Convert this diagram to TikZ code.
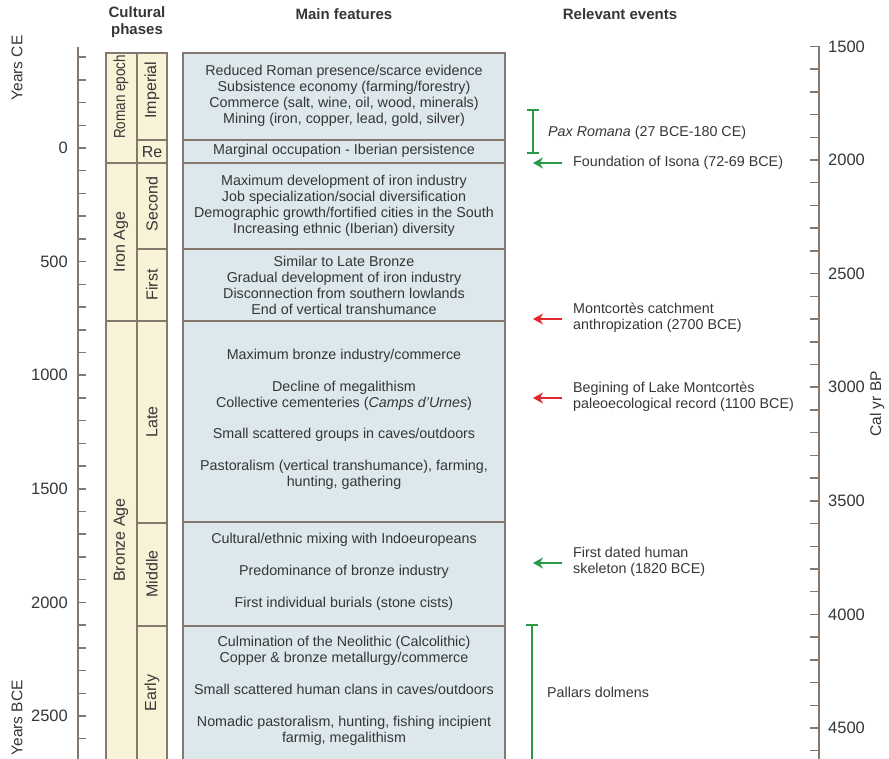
\documentclass[tikz,border=0pt]{standalone}
\usepackage{graphicx}
\usepackage{fontspec}
\setmainfont{Liberation Sans}
\usetikzlibrary{arrows.meta}

\definecolor{phasefill}{HTML}{F8F3D6}
\definecolor{featfill}{HTML}{DDE8EC}
\definecolor{framegray}{HTML}{85796F}
\definecolor{inkgray}{HTML}{363636}
\definecolor{evgreen}{HTML}{2A9A48}
\definecolor{evred}{HTML}{E3262B}

\tikzstyle{phasebox} = [draw=framegray, fill=phasefill, line width=1.5pt]
\tikzstyle{featbox} = [draw=framegray, fill=featfill, line width=1.5pt]
\tikzstyle{axisline} = [draw=framegray, line width=1.5pt]
\tikzstyle{header} = [font=\fontsize{15}{17}\selectfont\bfseries, text=inkgray, align=center]
\tikzstyle{phase} = [font=\fontsize{16}{18}\selectfont, text=inkgray, rotate=90]
\tikzstyle{feature} = [font=\fontsize{14.3}{16}\selectfont, text=inkgray, align=center]
\tikzstyle{event} = [font=\fontsize{14.3}{16}\selectfont, text=inkgray, align=left, anchor=west, inner sep=0pt]
\tikzstyle{ticklabel} = [font=\fontsize{16.5}{18}\selectfont, text=inkgray, inner sep=0pt]
\tikzstyle{axistitle} = [font=\fontsize{15.5}{17}\selectfont, text=inkgray, inner sep=0pt, rotate=90]
\tikzstyle{garrow} = [draw=evgreen, line width=2pt, -{Stealth[length=10pt,width=11pt]}]
\tikzstyle{rarrow} = [draw=evred, line width=2pt, -{Stealth[length=10pt,width=11pt]}]
\tikzstyle{evspan} = [draw=evgreen, line width=2pt]

\begin{document}
\begin{tikzpicture}[x=1pt, y=-1pt]

\useasboundingbox (0,0) rectangle (889,759);
\clip (0,0) rectangle (889,759);

% headers
\node (hphase) [header] at (137,22) {Cultural\\phases};
\node (hfeat) [header] at (344,14) {Main features};
\node (hevent) [header] at (620,14) {Relevant events};

% left axis (years)
\draw [axisline] (78,47) -- (78,770);
\foreach \yr in {-400,-300,...,2700}
  \draw [axisline] (78,148+0.2272*\yr) -- (86,148+0.2272*\yr);
\foreach \yr in {0,500,...,2500}
  \node (ly\yr) [ticklabel, anchor=east] at (68,148+0.2272*\yr) {\yr};
\node (yce) [axistitle] at (17,68) {Years CE};
\node (ybce) [axistitle, anchor=east] at (17,680) {Years BCE};

% right axis (cal yr BP)
\draw [axisline] (819,46) -- (819,770);
\foreach \bp in {1500,1600,...,4600}
  \draw [axisline] (810,160+0.2272*\bp-454.4) -- (819,160+0.2272*\bp-454.4);
\foreach \bp in {1500,2000,...,4500}
  \node (rb\bp) [ticklabel, anchor=west] at (828,160+0.2272*\bp-454.4) {\bp};
\node (calbp) [axistitle] at (877,404) {Cal yr BP};

% cultural phases column
\draw [phasebox] (106,53) rectangle (167,770);
\draw [axisline] (137,53) -- (137,770);
\draw [axisline] (106,163) -- (167,163);
\draw [axisline] (106,321) -- (167,321);
\draw [axisline] (137,140) -- (167,140);
\draw [axisline] (137,249) -- (167,249);
\draw [axisline] (137,523) -- (167,523);
\draw [axisline] (137,626) -- (167,626);

\node (roman) [phase] at (121,97) {\scalebox{0.84}[1]{Roman epoch}};
\node (iron) [phase] at (121,242) {Iron Age};
\node (bronze) [phase] at (121,540) {Bronze Age};
\node (imperial) [phase] at (152,90) {Imperial};
\node (re) [font=\fontsize{16}{18}\selectfont, text=inkgray] at (152,152) {Re};
\node (second) [phase] at (152,204) {Second};
\node (first) [phase] at (152,285) {First};
\node (late) [phase] at (152,422) {Late};
\node (middle) [phase] at (152,574) {Middle};
\node (early) [phase] at (152,693) {Early};

% main features column
\draw [featbox] (183,53) rectangle (505,770);
\foreach \yy in {140,163,249,321,522,626}
  \draw [axisline] (183,\yy) -- (505,\yy);

\node (fimperial) [feature] at (344,96) {Reduced Roman presence/scarce evidence\\Subsistence economy (farming/forestry)\\Commerce (salt, wine, oil, wood, minerals)\\Mining (iron, copper, lead, gold, silver)};
\node (fre) [feature] at (344,151) {Marginal occupation - Iberian persistence};
\node (fsecond) [feature] at (344,206) {Maximum development of iron industry\\Job specialization/social diversification\\Demographic growth/fortified cities in the South\\Increasing ethnic (Iberian) diversity};
\node (ffirst) [feature] at (344,285) {Similar to Late Bronze\\Gradual development of iron industry\\Disconnection from southern lowlands\\End of vertical transhumance};
\node (flate) [feature] at (344,419) {Maximum bronze industry/commerce\\[16pt]Decline of megalithism\\Collective cementeries (\textit{Camps d'Urnes})\\[15pt]Small scattered groups in caves/outdoors\\[16pt]Pastoralism (vertical transhumance), farming,\\hunting, gathering};
\node (fmiddle) [feature] at (344,572) {Cultural/ethnic mixing with Indoeuropeans\\[16pt]Predominance of bronze industry\\[16pt]First individual burials (stone cists)};
\node (fearly) [feature] at (344,691) {Culmination of the Neolithic (Calcolithic)\\Copper \& bronze metallurgy/commerce\\[16pt]Small scattered human clans in caves/outdoors\\[16pt]Nomadic pastoralism, hunting, fishing incipient\\farmig, megalithism};

% relevant events
\coordinate (paxtop) at (533,109);
\coordinate (paxbot) at (533,154);
\draw [evspan, {Bar[width=12pt]}-{Bar[width=12pt]}] (paxtop) -- (paxbot);
\node (pax) [event] at (548,133) {\textit{Pax Romana} (27 BCE-180 CE)};

\node (isona) [event] at (573,163) {Foundation of Isona (72-69 BCE)};
\coordinate (isonatip) at (533,163);
\draw [garrow] ([xshift=-11pt]isona.west) -- (isonatip);

\node (anthro) [event] at (573,318) {Montcortès catchment\\anthropization (2700 BCE)};
\coordinate (anthrotip) at (533,319);
\draw [rarrow] ([xshift=-11pt]anthro.west |- anthrotip) -- (anthrotip);

\node (lake) [event] at (573,397) {Begining of Lake Montcortès\\paleoecological record (1100 BCE)};
\coordinate (laketip) at (533,398);
\draw [rarrow] ([xshift=-11pt]lake.west |- laketip) -- (laketip);

\node (skeleton) [event] at (573,562) {First dated human\\skeleton (1820 BCE)};
\coordinate (skeletontip) at (533,563);
\draw [garrow] ([xshift=-11pt]skeleton.west |- skeletontip) -- (skeletontip);

\coordinate (dolmentop) at (532,624);
\coordinate (dolmenbot) at (532,770);
\draw [evspan, {Bar[width=12pt]}-] (dolmentop) -- (dolmenbot);
\node (dolmens) [event] at (547,692) {Pallars dolmens};

\end{tikzpicture}
\end{document}
